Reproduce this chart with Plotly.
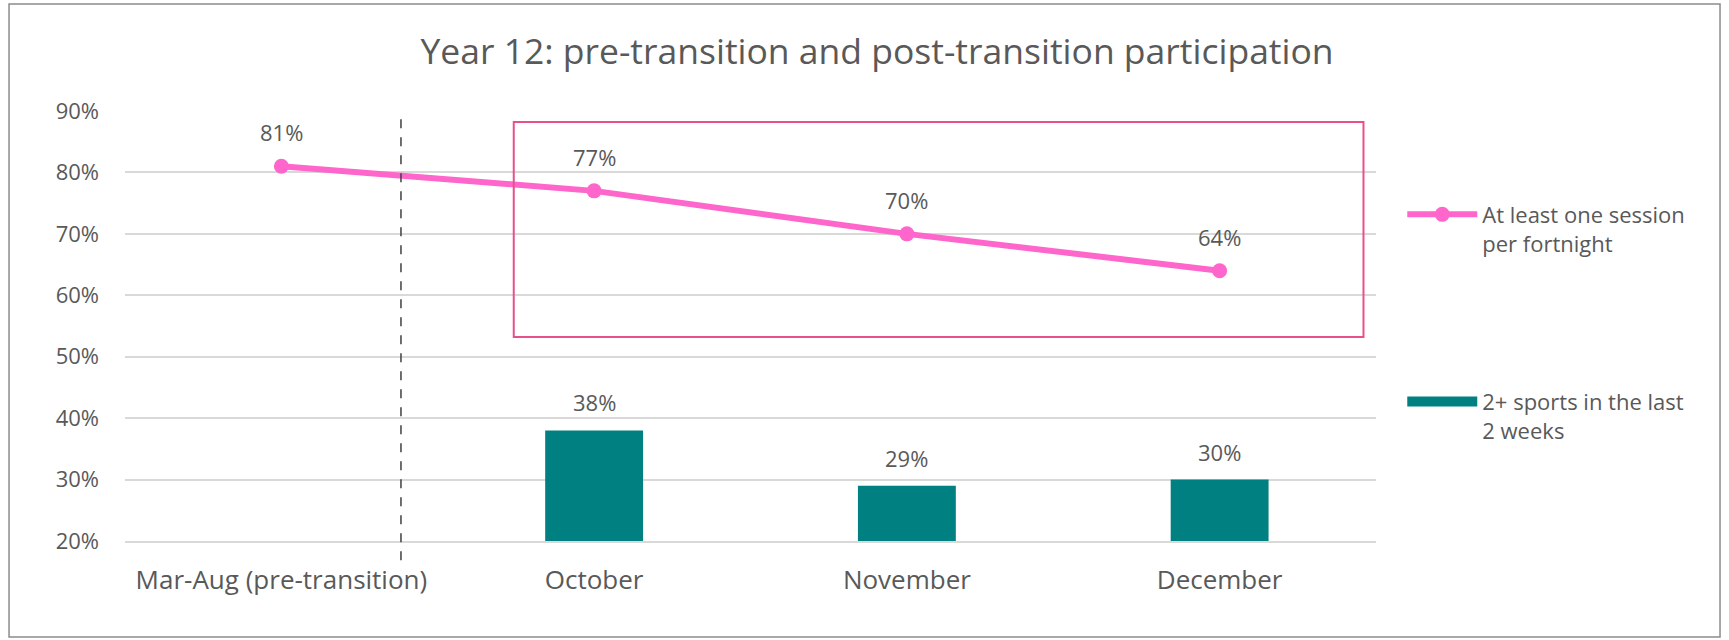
import plotly.graph_objects as go

categories = ["Mar-Aug (pre-transition)", "October", "November", "December"]
session_values = [81, 77, 70, 64]
bar_categories = ["October", "November", "December"]
sports_values = [38, 29, 30]
y_ticks = [20, 30, 40, 50, 60, 70, 80, 90]
y_tick_labels = [f"{v}%" for v in y_ticks]

TEXT = "#595959"
FONT = "Open Sans"
TEAL = "#008080"
PINK = "#FF66CC"

fig = go.Figure()
fig.add_trace(go.Bar(
    x=bar_categories, y=sports_values,
    name="2+ sports in the last<br>2 weeks",
    marker=dict(color=TEAL, line=dict(width=0)),
    width=0.313,
    legendgroup="sports", showlegend=False,
))
# legend entry for the bars (wide teal swatch, as in the original)
fig.add_trace(go.Scatter(
    x=[None], y=[None], mode="lines",
    name="2+ sports in the last<br>2 weeks",
    line=dict(color=TEAL, width=16),
    legendgroup="sports", legend="legend2", hoverinfo="skip",
))
fig.add_trace(go.Scatter(
    x=categories, y=session_values,
    mode="lines+markers",
    name="At least one session<br>per fortnight",
    line=dict(color=PINK, width=6),
    marker=dict(color=PINK, size=15),
    legend="legend",
))

for c, v in zip(categories, session_values):
    fig.add_annotation(x=c, y=v, text=f"{v}%", showarrow=False, yshift=34,
                       font=dict(family=FONT, size=22, color=TEXT))
for c, v in zip(bar_categories, sports_values):
    fig.add_annotation(x=c, y=v, text=f"{v}%", showarrow=False, yshift=28,
                       font=dict(family=FONT, size=22, color=TEXT))

# highlight box around post-transition line
fig.add_shape(type="rect", xref="x", yref="y", x0=0.743, x1=3.46, y0=53.2, y1=88.2,
              line=dict(color="#E8508C", width=2), fillcolor="rgba(0,0,0,0)")
# dashed divider
fig.add_shape(type="line", xref="paper", yref="paper", x0=0.2206, x1=0.2206, y0=0.981, y1=-0.051,
              line=dict(color="#404040", width=1.5, dash="dash"))
# outer border
fig.add_shape(type="rect", xref="paper", yref="paper", x0=-0.0927, x1=1.275, y0=-0.223, y1=1.249,
              line=dict(color="#8C8C8C", width=1.5), fillcolor="rgba(0,0,0,0)")

fig.update_layout(
    width=1729, height=640,
    margin=dict(l=125, r=353, t=111, b=99),
    paper_bgcolor="white", plot_bgcolor="white",
    title=dict(text="Year 12: pre-transition and post-transition participation",
               x=877 / 1729, xanchor="center", y=1 - 52 / 640, yanchor="middle",
               font=dict(family=FONT, size=35.5, color=TEXT)),
    font=dict(family=FONT, size=22, color=TEXT),
    showlegend=True,
    legend=dict(x=1.021, xanchor="left", y=0.808, yanchor="top", valign="top",
                font=dict(family=FONT, size=22, color=TEXT), bgcolor="rgba(0,0,0,0)",
                itemwidth=70),
    legend2=dict(x=1.021, xanchor="left", y=0.373, yanchor="top", valign="top",
                 font=dict(family=FONT, size=22, color=TEXT), bgcolor="rgba(0,0,0,0)",
                 itemwidth=70),
)
fig.update_xaxes(type="category", categoryorder="array", categoryarray=categories,
                 range=[-0.5, 3.5], showgrid=False, showline=True, linecolor="#D9D9D9",
                 linewidth=2, ticks="", ticklabelstandoff=15,
                 tickfont=dict(family=FONT, size=26, color=TEXT))
fig.update_yaxes(range=[20, 90], tickvals=y_ticks, ticktext=y_tick_labels,
                 showgrid=True, gridcolor="#D9D9D9", gridwidth=2, zeroline=False,
                 showline=False, ticks="", ticklabelstandoff=25,
                 tickfont=dict(family=FONT, size=22, color=TEXT))

fig.write_html("out.html", config={"displayModeBar": False},
               post_script="document.body.style.margin='0';document.body.style.overflow='hidden';")
